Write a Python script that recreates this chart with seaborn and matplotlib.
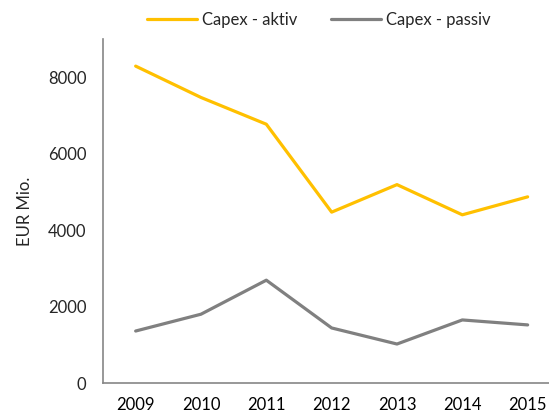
import pandas as pd
import matplotlib.pyplot as plt
import seaborn as sns
from matplotlib.ticker import FixedLocator

# data
years = ['2009', '2010', '2011', '2012', '2013', '2014', '2015']
capex_aktiv = [8290, 7470, 6770, 4470, 5190, 4400, 4870]
capex_passiv = [1360, 1800, 2690, 1440, 1020, 1650, 1520]
series_names = ['Capex - aktiv', 'Capex - passiv']

df = pd.DataFrame({
    'pos': list(range(len(years))) * 2,
    'value': capex_aktiv + capex_passiv,
    'series': [series_names[0]] * len(years) + [series_names[1]] * len(years),
})

sns.set_style('white')
plt.rcParams['font.family'] = ['Lato', 'DejaVu Sans']
fs = 12

fig = plt.figure(figsize=(5.49, 4.16), dpi=100)
ax = fig.add_axes([0.1876, 0.0793, 0.833, 0.827])

sns.lineplot(data=df, x='pos', y='value', hue='series',
             palette=['#FFC000', '#808080'], linewidth=2.3, ax=ax, legend=True)

ax.set_xlim(-0.5, 6.5)
ax.set_ylim(0, 9000)
ax.set_yticks([0, 2000, 4000, 6000, 8000])
ax.set_xticks(range(len(years)))
ax.set_xticklabels(years)
ax.xaxis.set_minor_locator(FixedLocator([i - 0.5 for i in range(len(years) + 1)]))
ax.tick_params(axis='x', which='major', length=0, pad=10, labelsize=fs, colors='#000000')
ax.tick_params(axis='x', which='minor', length=5, width=1, color='#868686', direction='out')
ax.tick_params(axis='y', which='major', length=4, width=1, color='#868686', direction='out',
               labelsize=fs, pad=8)
ax.set_xlabel('')
ax.set_ylabel('EUR Mio.', fontsize=fs, labelpad=11)

for side in ['top', 'right']:
    ax.spines[side].set_visible(False)
for side in ['left', 'bottom']:
    ax.spines[side].set_color('#868686')
    ax.spines[side].set_linewidth(1.2)

ax.legend(title=None, loc='center', bbox_to_anchor=(319 / 549, 1 - 20 / 416),
          bbox_transform=fig.transFigure, ncol=2, frameon=False,
          handlelength=3.0, handletextpad=0.3, columnspacing=2.0, fontsize=fs,
          borderpad=0, borderaxespad=0)

fig.savefig('out.png', dpi=100)
